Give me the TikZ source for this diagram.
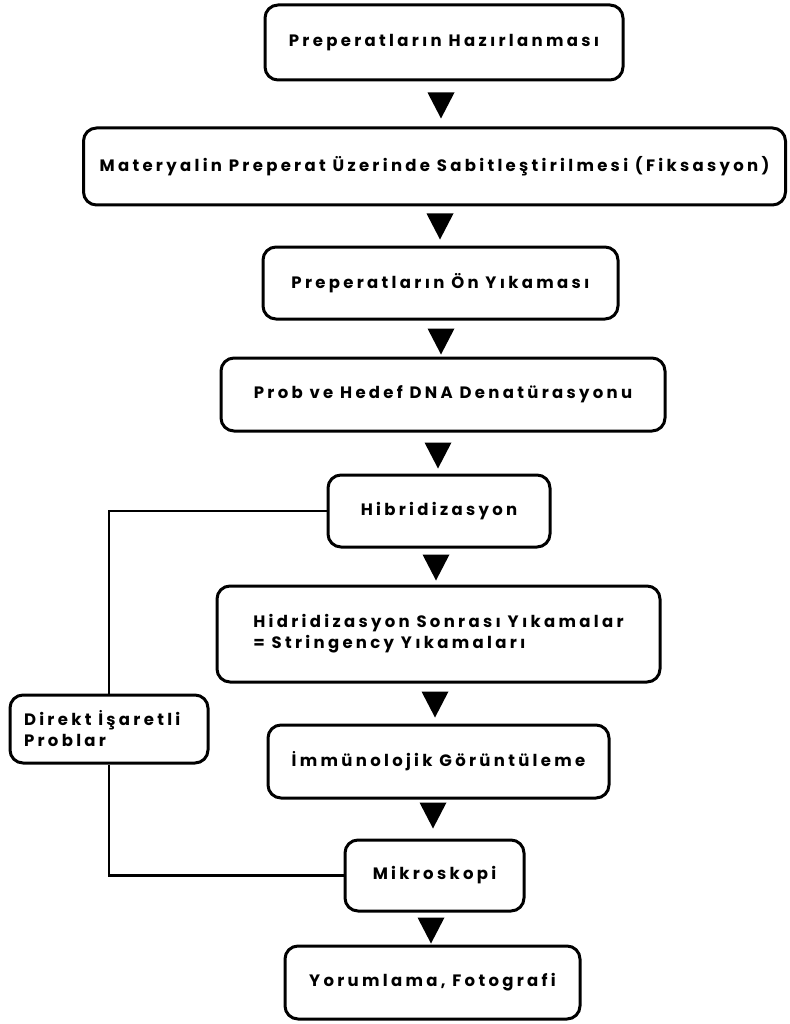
\documentclass[tikz,border=0pt]{standalone}
\usepackage{fontspec}
\setmainfont{Poppins}[LetterSpace=20]
\usetikzlibrary{positioning}
\begin{document}
\begin{tikzpicture}[x=1pt,y=-1pt,
  stepbox/.style={draw=black, line width=3pt, rounded corners=13pt, inner sep=0pt, font=\fontsize{16.5}{21}\selectfont\bfseries},
  tri/.style={fill=black},
  link/.style={draw=black, line width=2.8pt}]
\useasboundingbox (0,0) rectangle (789,1024);
\fill[white] (0,0) rectangle (789,1024);
\node[stepbox, minimum width=358pt, minimum height=75pt] (b1) at (444,42.5) {Preperatların Hazırlanması};
\node[stepbox, minimum width=702pt, minimum height=77pt] (b2) at (434.5,166.5) {Materyalin Preperat Üzerinde Sabitleştirilmesi (Fiksasyon)};
\node[stepbox, minimum width=355pt, minimum height=72pt] (b3) at (440.5,283) {Preperatların Ön Yıkaması};
\node[stepbox, minimum width=444pt, minimum height=73pt] (b4) at (443,394.5) {Prob ve Hedef DNA Denatürasyonu};
\node[stepbox, minimum width=222pt, minimum height=72pt] (b5) at (439,511) {Hibridizasyon};
\node[stepbox, minimum width=443pt, minimum height=96pt, align=left] (b6) at (438.5,634) {Hidridizasyon Sonrası Yıkamalar\\= Stringency Yıkamaları};
\node[stepbox, minimum width=341pt, minimum height=73pt] (b7) at (438.5,761.5) {İmmünolojik Görüntüleme};
\node[stepbox, minimum width=179pt, minimum height=71pt] (b8) at (434.5,875.5) {Mikroskopi};
\node[stepbox, minimum width=295pt, minimum height=73pt] (b9) at (432.5,982.5) {Yorumlama, Fotografi};
\node[stepbox, minimum width=198pt, minimum height=68pt, text width=174pt, align=flush left] (d) at (109,729) {\hspace*{2pt}Direkt İşaretli\\\hspace*{2pt}Problar};
% triangles
\foreach \x/\y in {441/105, 440/226, 441/341, 438/455, 436/567, 435/704, 433/815, 431/930}{
  \fill[tri] (\x-13.5,\y-12.5) -- (\x+13.5,\y-12.5) -- (\x,\y+13.5) -- cycle;
}
% side path
\draw[link] (b5.west) -| (d.north);
\draw[link] (d.south) |- (b8.west);
\end{tikzpicture}
\end{document}
